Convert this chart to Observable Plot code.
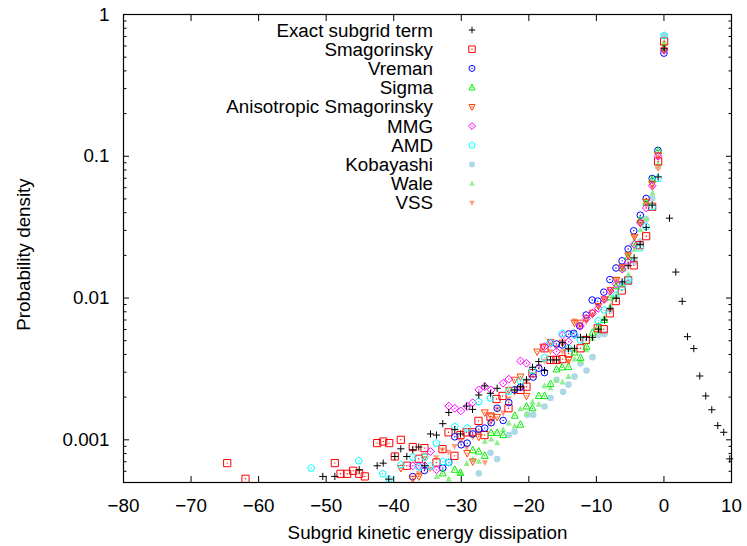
<!DOCTYPE html>
<html><head><meta charset="utf-8">
<script src="https://cdn.jsdelivr.net/npm/d3@7"></script>
<script src="https://cdn.jsdelivr.net/npm/@observablehq/plot@0.6"></script>
<style>
html,body{margin:0;padding:0;background:#fff;}
#wrap{position:relative;width:747px;height:546px;}
</style></head><body><div id="wrap"></div>
<script>
// ---------- data ----------
const seriesNames = ["Exact subgrid term","Smagorinsky","Vreman","Sigma","Anisotropic Smagorinsky","MMG","AMD","Kobayashi","Wale","VSS"];
const seriesColors = ["#000000","#ff0000","#0000ff","#00ee00","#ff4500","#ff00ff","#00ffff","#add8e6","#90ee90","#ffa07a"];

const exactX = [-50.50,-48.72,-45.11,-42.45,-41.56,-40.73,-39.84,-38.95,-38.06,-37.18,-36.29,-35.40,-34.56,-33.67,-32.74,-31.85,-30.96,-30.12,-29.23,-28.34,-27.41,-26.52,-25.68,-24.69,-22.08,-21.24,-20.35,-19.46,-18.53,-17.68,-16.79,-15.91,-15.02,-14.13,-13.24,-12.35,-11.47,-10.58,-9.69,-8.80,-7.96,-7.07,-6.18,-5.30,-4.41,-3.52,-2.63,-1.74,-0.86,0.03,0.82,1.75,2.70,3.48,4.42,5.30,6.19,7.08,7.97,8.85,9.74];
const exactY = [0.000552,0.000552,0.000615,0.000656,0.000685,0.000528,0.000763,0.000864,0.000763,0.000851,0.000889,0.000656,0.00110,0.00108,0.00130,0.00156,0.00118,0.00110,0.00173,0.00164,0.00207,0.00240,0.00213,0.00231,0.00225,0.00237,0.00265,0.00325,0.00356,0.00308,0.00366,0.00366,0.00484,0.00442,0.00442,0.00529,0.00529,0.00529,0.00603,0.0070,0.00846,0.00995,0.0130,0.0169,0.0192,0.0239,0.0315,0.0452,0.0715,0.573,0.0366,0.01525,0.00948,0.00534,0.00440,0.00282,0.00204,0.00163,0.00126,0.00113,0.000734];

const smagX = [-64.65,-61.94,-48.72,-47.88,-46.89,-46.00,-45.11,-44.28,-42.45,-41.56,-40.67,-39.84,-38.95,-38.06,-37.18,-36.29,-35.45,-33.67,-32.78,-31.89,-31.01,-30.12,-29.23,-28.34,-27.45,-26.57,-25.68,-24.79,-23.90,-23.01,-21.24,-20.35,-19.46,-17.68,-16.79,-15.91,-15.02,-14.13,-12.35,-11.57,-9.80,-8.91,-8.02,-7.13,-6.24,-5.30,-4.47,-3.58,-2.63,-1.74,-0.86,0.03];
const smagY = [0.000685,0.000531,0.000685,0.000576,0.000576,0.000605,0.000576,0.000552,0.000948,0.000973,0.000948,0.000763,0.001,0.000656,0.000889,0.000735,0.000874,0.000692,0.000860,0.00113,0.000771,0.00108,0.00113,0.00113,0.00136,0.00108,0.00146,0.00194,0.00204,0.00167,0.00225,0.00237,0.00295,0.00442,0.00366,0.00366,0.00371,0.00408,0.00442,0.00506,0.00612,0.00603,0.0078,0.00952,0.0113,0.0133,0.0170,0.0236,0.0273,0.044,0.092,0.645];

const vremanX = [-37.2,-35.45,-32.74,-31.85,-30.96,-30.01,-29.13,-28.30,-27.41,-26.52,-25.57,-24.69,-23.80,-22.97,-22.12,-21.24,-19.36,-18.53,-17.68,-15.91,-15.07,-14.09,-13.35,-12.46,-11.51,-10.62,-9.8,-8.9,-8.0,-7.1,-6.2,-5.3,-4.47,-3.5,-2.63,-1.74,-0.89,0.0];
const vremanY = [0.00055,0.000608,0.000632,0.000692,0.00105,0.000922,0.000948,0.00110,0.00119,0.00121,0.00132,0.00167,0.00137,0.00183,0.00225,0.00235,0.00277,0.00320,0.00298,0.00474,0.00467,0.00558,0.00564,0.00635,0.00759,0.00968,0.00952,0.0110,0.0135,0.0163,0.0183,0.0222,0.0298,0.0384,0.0504,0.0697,0.110,0.534];

const sigmaX = [-32.74,-30.96,-30.12,-28.30,-27.41,-26.52,-25.57,-24.69,-23.80,-22.08,-21.24,-20.35,-19.46,-18.53,-17.68,-16.79,-15.91,-15.07,-14.13,-13.24,-12.35,-11.47,-10.58,-9.69,-8.85,-7.96,-7.07,-6.18,-5.30,-4.36,-3.52,-2.63,-1.74,-0.86,0.03];
const sigmaY = [0.00058,0.000615,0.000586,0.000845,0.000827,0.000771,0.00112,0.00112,0.00108,0.00148,0.00128,0.00172,0.00167,0.00204,0.00204,0.00248,0.00314,0.00324,0.00327,0.00413,0.00379,0.00454,0.00570,0.0063,0.00701,0.0101,0.0121,0.0162,0.0194,0.0243,0.0355,0.0470,0.0684,0.109,0.582];

const anisoX = [-38.95,-37.18,-36.29,-35.40,-29.13,-28.30,-27.41,-26.52,-25.57,-24.69,-22.97,-22.12,-21.24,-20.35,-18.77,-17.88,-16.79,-15.02,-14.13,-13.24,-12.35,-11.47,-10.58,-9.69,-8.80,-7.92,-7.03,-6.18,-5.30,-4.36,-3.48,-2.63,-1.74,-0.86,0.03];
const anisoY = [0.000632,0.000531,0.000552,0.000763,0.000806,0.000703,0.00105,0.00156,0.00146,0.00145,0.00225,0.00265,0.00279,0.00204,0.00419,0.00454,0.00489,0.00484,0.00366,0.00670,0.00670,0.0072,0.00788,0.00879,0.0098,0.0114,0.0134,0.0165,0.020,0.0270,0.0339,0.0477,0.0642,0.1016,0.56];

const mmgX = [-37.18,-36.29,-35.40,-34.56,-33.67,-31.85,-30.96,-30.07,-29.13,-28.30,-27.41,-26.52,-25.57,-23.80,-22.97,-21.24,-20.35,-17.68,-16.79,-15.91,-15.02,-14.13,-13.24,-12.35,-11.47,-10.58,-9.73,-8.85,-7.96,-7.07,-6.18,-5.30,-4.41,-3.48,-2.63,-1.74,-0.86,0.03];
const mmgY = [0.000656,0.000656,0.000656,0.000827,0.000615,0.00173,0.00167,0.00160,0.00172,0.00183,0.00225,0.00237,0.00225,0.00251,0.00268,0.00360,0.00347,0.00454,0.00480,0.00419,0.00549,0.00492,0.0055,0.00635,0.0072,0.0078,0.00846,0.00979,0.0112,0.0125,0.0160,0.0180,0.0239,0.0339,0.0432,0.062,0.10,0.56];

const amdX = [-52.22,-45.17,-41.62,-40.67,-38.95,-37.18,-36.29,-35.40,-34.56,-33.67,-32.74,-31.89,-30.96,-29.13,-27.41,-25.68,-22.97,-21.24,-19.46,-17.68,-16.79,-15.02,-14.09,-13.24,-12.35,-9.73,-8.85,-7.07,-6.18,-5.25,-3.52,-2.63,-1.74,-0.86,0.03];
const amdY = [0.000632,0.000711,0.000576,0.000528,0.000668,0.000755,0.000643,0.000755,0.000653,0.000948,0.000703,0.000692,0.00124,0.00121,0.00186,0.00197,0.0022,0.0026,0.0031,0.0038,0.00484,0.00564,0.00442,0.00549,0.00506,0.00692,0.00823,0.0105,0.012,0.0134,0.0226,0.032,0.044,0.0697,0.711];

const kobaX = [-27.41,-25.68,-24.69,-22.97,-22.12,-20.24,-19.36,-17.68,-16.79,-15.91,-14.92,-14.13,-13.24,-12.35,-11.47,-10.58,-9.69,-8.80,-7.92,-6.18,-5.25,-4.36,-3.48,-2.63,-1.74,-0.86,0.03];
const kobaY = [0.000580,0.000810,0.000731,0.00108,0.00114,0.00150,0.00150,0.00172,0.00197,0.00265,0.00218,0.00245,0.00279,0.00345,0.00308,0.00383,0.00549,0.00558,0.00826,0.0127,0.0130,0.018,0.025,0.036,0.0504,0.0841,0.711];

const waleX = [-33.6,-31.85,-30.1,-29.2,-28.3,-27.41,-26.52,-25.57,-24.69,-23.8,-22.97,-22.1,-21.24,-20.35,-19.46,-18.53,-17.68,-16.79,-15.91,-15.02,-14.13,-13.24,-12.35,-11.47,-10.58,-9.69,-8.8,-7.92,-7.03,-6.14,-5.25,-4.36,-3.48,-2.59,-1.7,-0.86,0.03];
const waleY = [0.00055,0.000528,0.00058,0.00068,0.00073,0.000703,0.000973,0.00101,0.00095,0.00118,0.00131,0.00125,0.00165,0.00152,0.00185,0.00178,0.00240,0.00232,0.00262,0.00255,0.00279,0.00371,0.0036,0.0043,0.00518,0.0058,0.0072,0.0088,0.0105,0.0125,0.0146,0.0220,0.0302,0.0364,0.055,0.088,0.64];

const vssX = [-36.3,-34.6,-33.7,-32.8,-31.9,-31.0,-30.1,-29.2,-28.3,-27.4,-26.5,-25.7,-24.7,-23.8,-22.97,-22.1,-21.2,-20.35,-19.46,-18.5,-17.7,-16.8,-15.9,-15.0,-14.13,-13.24,-12.35,-11.5,-10.6,-9.7,-8.8,-7.9,-7.0,-6.2,-5.3,-4.4,-3.48,-2.6,-1.7,-0.86,0.03];
const vssY = [0.00058,0.00062,0.00075,0.00085,0.00082,0.00090,0.00098,0.00088,0.00105,0.00112,0.000692,0.00132,0.00165,0.00155,0.00195,0.00215,0.0023,0.0026,0.0029,0.0033,0.0036,0.0042,0.0045,0.0042,0.00357,0.00690,0.0062,0.0068,0.0075,0.0088,0.0098,0.0112,0.0136,0.0165,0.020,0.027,0.0335,0.045,0.060,0.0818,0.60];

const xTickValues = [-80,-70,-60,-50,-40,-30,-20,-10,0,10];
const yTickValues = [0.001,0.01,0.1,1];
const yTickLabels = ["0.001","0.01","0.1","1"];
const xLabel = "Subgrid kinetic energy dissipation";
const yLabel = "Probability density";

// ---------- symbols ----------
const sym = (fn) => ({draw(c, size){ const s = Math.sqrt(size/Math.PI); fn(c, s); }});
const plusSym = sym((c,s)=>{c.moveTo(-s,0);c.lineTo(s,0);c.moveTo(0,-s);c.lineTo(0,s);});
const squareSym = sym((c,s)=>{c.moveTo(-s,-s);c.lineTo(s,-s);c.lineTo(s,s);c.lineTo(-s,s);c.closePath();});
const circleSym = sym((c,s)=>{c.moveTo(s,0);c.arc(0,0,s,0,2*Math.PI);});
const triUpSym = sym((c,s)=>{c.moveTo(0,-s*1.15);c.lineTo(s,s*0.75);c.lineTo(-s,s*0.75);c.closePath();});
const triDownSym = sym((c,s)=>{c.moveTo(0,s*1.15);c.lineTo(s,-s*0.75);c.lineTo(-s,-s*0.75);c.closePath();});
const diamondSym = sym((c,s)=>{c.moveTo(0,-s);c.lineTo(s,0);c.lineTo(0,s);c.lineTo(-s,0);c.closePath();});
const pentSym = sym((c,s)=>{for(let i=0;i<5;i++){const a=-Math.PI/2+i*2*Math.PI/5;const px=s*Math.cos(a),py=s*Math.sin(a); if(i) c.lineTo(px,py); else c.moveTo(px,py);} c.closePath();});

const seriesX = [exactX,smagX,vremanX,sigmaX,anisoX,mmgX,amdX,kobaX,waleX,vssX];
const seriesY = [exactY,smagY,vremanY,sigmaY,anisoY,mmgY,amdY,kobaY,waleY,vssY];
const styles = [
  {symbol:plusSym, r:3.6, filled:false, dot:false},
  {symbol:squareSym, r:3.6, filled:false, dot:true},
  {symbol:circleSym, r:3.3, filled:false, dot:true},
  {symbol:triUpSym, r:3.4, filled:false, dot:true},
  {symbol:triDownSym, r:3.4, filled:false, dot:true},
  {symbol:diamondSym, r:3.9, filled:false, dot:true},
  {symbol:pentSym, r:3.7, filled:false, dot:true},
  {symbol:circleSym, r:3.3, filled:true, dot:false},
  {symbol:triUpSym, r:3.1, filled:true, dot:false},
  {symbol:triDownSym, r:3.1, filled:true, dot:false}
];
const tables = seriesX.map((xs,i)=>xs.map((x,j)=>({x, y: seriesY[i][j]})));

const drawOrder = [7,8,9,1,2,3,4,5,6,0];
const pointMarks = [];
for (const i of drawOrder) {
  const st = styles[i], col = seriesColors[i];
  if (st.filled) {
    pointMarks.push(Plot.dot(tables[i], {x:"x", y:"y", symbol: st.symbol, r: st.r, fill: col, stroke: "none"}));
  } else {
    pointMarks.push(Plot.dot(tables[i], {x:"x", y:"y", symbol: st.symbol, r: st.r, fill: "none", stroke: col, strokeWidth: 1}));
    if (st.dot) pointMarks.push(Plot.dot(tables[i], {x:"x", y:"y", r: 0.7, fill: col, stroke: "none"}));
  }
}

const yMinorValues = [];
for (const e of [-4,-3,-2,-1]) for (const m of [2,3,4,5,6,7,8,9]) { const v = m*Math.pow(10,e); if (v>=0.0005 && v<1) yMinorValues.push(v); }

const font = "'Liberation Sans', Arial, Helvetica, sans-serif";
const chart = Plot.plot({
  width: 747, height: 546,
  marginLeft: 123, marginRight: 16, marginTop: 14, marginBottom: 64,
  style: {fontFamily: font, fontSize: "18.8px", background: "white", color: "black"},
  x: {domain: [-80, 10]},
  y: {type: "log", domain: [0.0005, 1]},
  marks: [
    ...pointMarks,
    Plot.axisX({anchor:"bottom", ticks: xTickValues, tickSize: -6, tickPadding: 22, tickFormat: d => d < 0 ? "\u2212" + Math.abs(d) : String(d), label: null, fontSize: 18.8}),
    Plot.axisX({anchor:"top", ticks: xTickValues, tickSize: -6, tickFormat: () => "", label: null}),
    Plot.axisY({anchor:"left", ticks: yTickValues, tickSize: -6, tickPadding: 20, tickFormat: d => yTickLabels[yTickValues.indexOf(d)], label: null, fontSize: 18.8}),
    Plot.axisY({anchor:"right", ticks: yTickValues, tickSize: -6, tickFormat: () => "", label: null}),
    Plot.axisY({anchor:"left", ticks: yMinorValues, tickSize: -3.5, tickFormat: () => "", label: null}),
    Plot.axisY({anchor:"right", ticks: yMinorValues, tickSize: -3.5, tickFormat: () => "", label: null}),
    Plot.frame({stroke: "black", strokeWidth: 1.2}),
    Plot.text([xLabel], {frameAnchor: "bottom", dy: 56, text: d => d, fontSize: 18.8, fill: "black", textAnchor: "middle"}),
    Plot.text([yLabel], {frameAnchor: "left", dx: -100, dy: 6, rotate: -90, text: d => d, fontSize: 18.8, fill: "black", textAnchor: "middle"})
  ]
});
document.getElementById("wrap").appendChild(chart);

// ---------- legend overlay ----------
const legendTextRight = 433, legendSymX = 472, legendTop = 30, legendStep = 19.2;
const leg = d3.select("#wrap").append("svg")
  .attr("width", 747).attr("height", 546)
  .style("position","absolute").style("left","0px").style("top","0px")
  .style("font-family", font).style("font-size","18.8px");
seriesNames.forEach((name, i) => {
  const yy = legendTop + i*legendStep;
  leg.append("text").attr("x", legendTextRight).attr("y", yy).attr("dy","0.35em")
    .attr("text-anchor","end").attr("fill","black").text(name);
  const st = styles[i], col = seriesColors[i];
  const r = st.r * 0.9;
  const p = leg.append("path").attr("transform", `translate(${legendSymX},${yy})`)
    .attr("d", d3.symbol(st.symbol, Math.PI*r*r)());
  if (st.filled) p.attr("fill", col).attr("stroke","none");
  else {
    p.attr("fill","none").attr("stroke", col).attr("stroke-width",1);
    if (st.dot) leg.append("circle").attr("cx",legendSymX).attr("cy",yy).attr("r",0.7).attr("fill",col);
  }
});
</script>
</body></html>
